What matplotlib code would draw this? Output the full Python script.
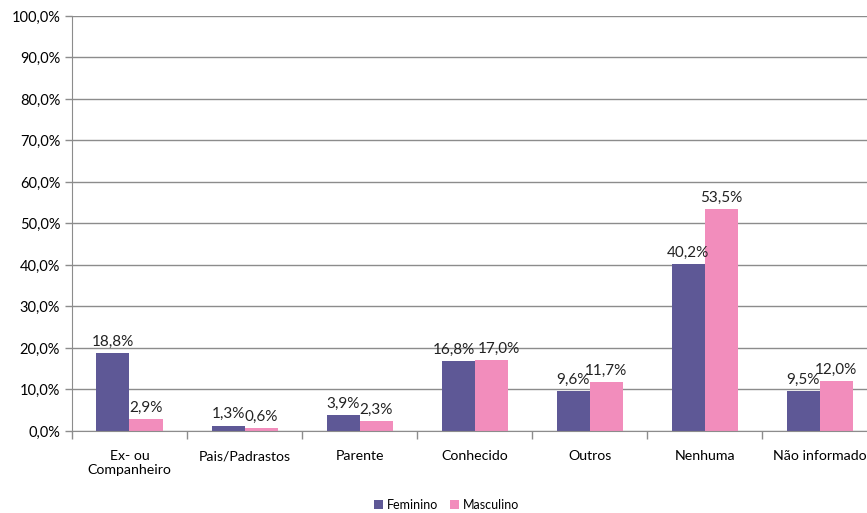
import matplotlib.pyplot as plt
import numpy as np
from matplotlib.ticker import FixedLocator, NullFormatter

plt.rcParams['font.family'] = ['Lato', 'DejaVu Sans']

categorias = ['Ex- ou\nCompanheiro', 'Pais/Padrastos', 'Parente', 'Conhecido',
              'Outros', 'Nenhuma', 'Não informado']
feminino = [18.8, 1.3, 3.9, 16.8, 9.6, 40.2, 9.5]
masculino = [2.9, 0.6, 2.3, 17.0, 11.7, 53.5, 12.0]

cor_fem = '#5E5896'
cor_masc = '#F28DBC'
cinza = '#8C8C8C'

fig = plt.figure(figsize=(8.67, 5.13), dpi=100)
ax = fig.add_axes([0.083, 0.16, 0.929, 0.809])

x = np.arange(len(categorias))
w = 0.287
b1 = ax.bar(x - w / 2, feminino, w, color=cor_fem, label='Feminino')
b2 = ax.bar(x + w / 2, masculino, w, color=cor_masc, label='Masculino')

def fmt(v):
    return f'{v:.1f}%'.replace('.', ',')

# rótulos de Conhecido afastados um pouco para não se sobreporem
desloc = {(0, 3): -0.035, (1, 3): 0.07}

for s, (barras, vals) in enumerate(((b1, feminino), (b2, masculino))):
    for i, (r, v) in enumerate(zip(barras, vals)):
        xc = r.get_x() + r.get_width() / 2 + desloc.get((s, i), 0)
        ax.text(xc, v + 1.0, fmt(v), ha='center', va='bottom',
                fontsize=11, color='#222222')

ax.set_xlim(-0.5, len(categorias) - 0.5)
ax.set_ylim(0, 100)
ax.set_yticks(np.arange(0, 101, 10))
ax.set_yticklabels([f'{t:.1f}%'.replace('.', ',') for t in np.arange(0, 101, 10)],
                   fontsize=10.5)

# categorias no centro, marcas nas divisas
ax.set_xticks(x)
ax.set_xticklabels(categorias, fontsize=10.2)
ax.tick_params(axis='x', which='major', length=0, pad=14)
ax.xaxis.set_minor_locator(FixedLocator(np.arange(-0.5, len(categorias), 1)))
ax.xaxis.set_minor_formatter(NullFormatter())
ax.tick_params(axis='x', which='minor', length=6, color=cinza, width=1)
ax.tick_params(axis='y', length=5, color=cinza, width=1)

ax.yaxis.grid(True, color=cinza, linewidth=1)
ax.set_axisbelow(True)
for s in ('top', 'right'):
    ax.spines[s].set_visible(False)
ax.spines['left'].set_color(cinza)
ax.spines['bottom'].set_color(cinza)

fig.legend(handles=[b1, b2], labels=['Feminino', 'Masculino'], loc='lower center',
           bbox_to_anchor=(0.515, -0.018), ncol=2, frameon=False, fontsize=9,
           handlelength=0.7, handleheight=0.7, handletextpad=0.3, columnspacing=1.0)

fig.savefig('out.png', dpi=100)
